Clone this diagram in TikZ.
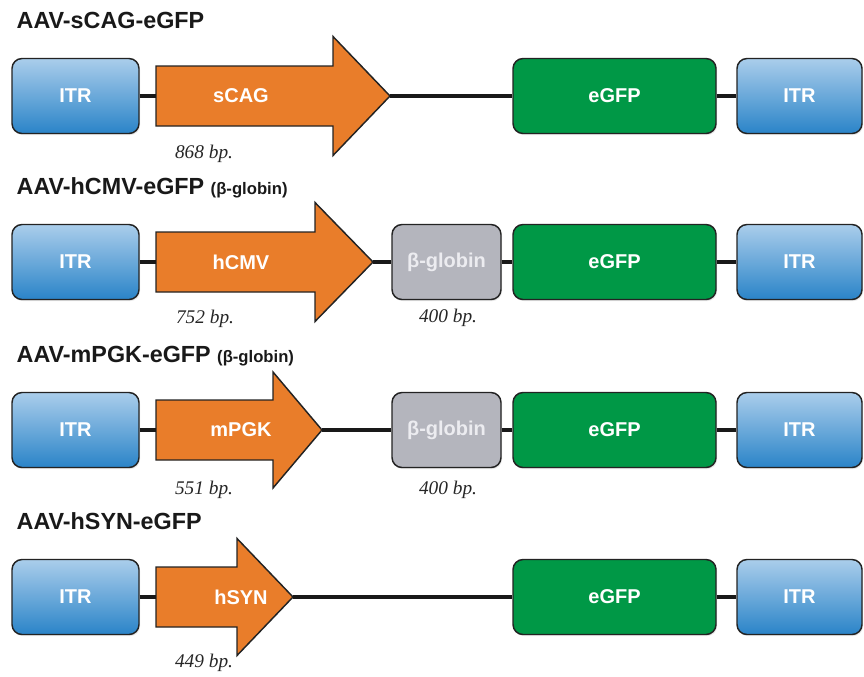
\documentclass[tikz,border=0pt]{standalone}
\usepackage{fontspec}
\setmainfont{Liberation Serif}
\setsansfont{Liberation Sans}
\usetikzlibrary{shadows}
\definecolor{itrtop}{RGB}{170,205,235}
\definecolor{itrbot}{RGB}{42,132,200}
\definecolor{gfpgreen}{RGB}{0,152,70}
\definecolor{globgray}{RGB}{180,181,189}
\definecolor{globtext}{RGB}{236,236,240}
\definecolor{promorange}{RGB}{233,125,42}
\definecolor{outline}{RGB}{35,35,35}
\definecolor{dnablack}{RGB}{25,25,25}
\newcommand{\subtitle}{\fontsize{12.5}{15}\selectfont}

\begin{document}
\begin{tikzpicture}[x=0.75pt,y=-0.75pt,
  part/.style={draw=outline, line width=1.1pt, rounded corners=7.5pt, minimum height=56.25pt,
    font=\sffamily\bfseries\fontsize{15}{18}\selectfont, text=white,
    drop shadow={opacity=0.18, shadow xshift=0.8pt, shadow yshift=-1.2pt}},
  itr/.style={part, top color=itrtop, bottom color=itrbot},
  gfp/.style={part, fill=gfpgreen, minimum width=152.25pt},
  globin/.style={part, fill=globgray, text=globtext, minimum width=81.75pt},
  prom/.style={draw=outline, line width=1.1pt, fill=promorange, line join=miter},
  plabel/.style={font=\sffamily\bfseries\fontsize{15}{18}\selectfont, text=white},
  dna/.style={draw=dnablack, line width=2.3pt},
  title/.style={anchor=base west, font=\sffamily\bfseries\fontsize{17.5}{20}\selectfont, text=black!90},
  bplabel/.style={font=\itshape\fontsize{14.5}{17}\selectfont, text=black!85}]
\useasboundingbox (0,0) rectangle (864,676);

% AAV-sCAG-eGFP
\node[title] (title1) at (12,28) {AAV-sCAG-eGFP};
\node[itr, minimum width=95.25pt] (itrL1) at (75.5,96) {ITR};
\draw[prom] (156,66) -- (333,66) -- (333,36.5) -- (390,96) -- (333,155.5) -- (333,126) -- (156,126) -- cycle;
\coordinate (prom1w) at (156,96);
\coordinate (prom1t) at (390,96);
\node[plabel] (sCAG) at (241,96) {sCAG};
\node[bplabel] (bp1) at (204,154) {868 bp.};
\node[gfp] (gfp1) at (614.5,96) {eGFP};
\node[itr, minimum width=93.75pt] (itrR1) at (799.5,96) {ITR};
\draw[dna] (itrL1.east) -- (prom1w);
\draw[dna] (prom1t) -- (gfp1.west);
\draw[dna] (gfp1.east) -- (itrR1.west);

% AAV-hCMV-eGFP (beta-globin)
\node[title] (title2) at (12,194) {AAV-hCMV-eGFP {\subtitle (β-globin)}};
\node[itr, minimum width=95.25pt] (itrL2) at (75.5,262) {ITR};
\draw[prom] (156,232) -- (315,232) -- (315,202.5) -- (373,262) -- (315,321.5) -- (315,292) -- (156,292) -- cycle;
\coordinate (prom2w) at (156,262);
\coordinate (prom2t) at (373,262);
\node[plabel] (hCMV) at (241,262) {hCMV};
\node[bplabel] (bp2) at (205,319) {752 bp.};
\node[globin] (glob2) at (446.5,262) {β-globin};
\node[bplabel] (bpg2) at (448,318) {400 bp.};
\node[gfp] (gfp2) at (614.5,262) {eGFP};
\node[itr, minimum width=93.75pt] (itrR2) at (799.5,262) {ITR};
\draw[dna] (itrL2.east) -- (prom2w);
\draw[dna] (prom2t) -- (glob2.west);
\draw[dna] (glob2.east) -- (gfp2.west);
\draw[dna] (gfp2.east) -- (itrR2.west);

% AAV-mPGK-eGFP (beta-globin)
\node[title] (title3) at (12,362) {AAV-mPGK-eGFP {\subtitle (β-globin)}};
\node[itr, minimum width=95.25pt] (itrL3) at (75.5,430) {ITR};
\draw[prom] (156,400) -- (273,400) -- (273,372) -- (322,430) -- (273,488) -- (273,460) -- (156,460) -- cycle;
\coordinate (prom3w) at (156,430);
\coordinate (prom3t) at (322,430);
\node[plabel] (mPGK) at (241,430) {mPGK};
\node[bplabel] (bp3) at (204,490) {551 bp.};
\node[globin] (glob3) at (446.5,430) {β-globin};
\node[bplabel] (bpg3) at (448,490) {400 bp.};
\node[gfp] (gfp3) at (614.5,430) {eGFP};
\node[itr, minimum width=93.75pt] (itrR3) at (799.5,430) {ITR};
\draw[dna] (itrL3.east) -- (prom3w);
\draw[dna] (prom3t) -- (glob3.west);
\draw[dna] (glob3.east) -- (gfp3.west);
\draw[dna] (gfp3.east) -- (itrR3.west);

% AAV-hSYN-eGFP
\node[title] (title4) at (12,529) {AAV-hSYN-eGFP};
\node[itr, minimum width=95.25pt] (itrL4) at (75.5,597) {ITR};
\draw[prom] (156,567) -- (237,567) -- (237,538.5) -- (293,597) -- (237,655.5) -- (237,627) -- (156,627) -- cycle;
\coordinate (prom4w) at (156,597);
\coordinate (prom4t) at (293,597);
\node[plabel] (hSYN) at (241,597) {hSYN};
\node[bplabel] (bp4) at (204,663) {449 bp.};
\node[gfp] (gfp4) at (614.5,597) {eGFP};
\node[itr, minimum width=93.75pt] (itrR4) at (799.5,597) {ITR};
\draw[dna] (itrL4.east) -- (prom4w);
\draw[dna] (prom4t) -- (gfp4.west);
\draw[dna] (gfp4.east) -- (itrR4.west);

\end{tikzpicture}
\end{document}
